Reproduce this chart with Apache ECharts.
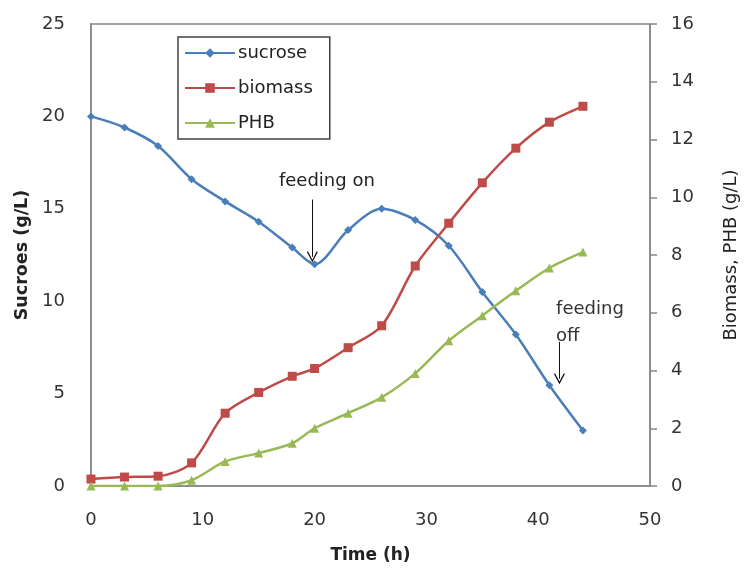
<!DOCTYPE html>
<html><head><meta charset="utf-8">
<script src="https://cdn.jsdelivr.net/npm/echarts@6/dist/echarts.min.js"></script>
<style>html,body{margin:0;padding:0;background:#fff}#c{width:748px;height:569px}</style>
</head><body><div id="c"></div>
<script>
var times   = [0, 3, 6, 9, 12, 15, 18, 20, 23, 26, 29, 32, 35, 38, 41, 44];
var sucrose = [20.0, 19.4, 18.4, 16.6, 15.4, 14.3, 12.9, 12.0, 13.85, 15.0, 14.4, 13.0, 10.5, 8.2, 5.45, 3.0];
var biomass = [0.24, 0.31, 0.34, 0.8, 2.52, 3.24, 3.8, 4.07, 4.79, 5.55, 7.62, 9.1, 10.5, 11.7, 12.6, 13.15];
var phb     = [0.0, 0.0, 0.0, 0.2, 0.85, 1.14, 1.48, 2.0, 2.52, 3.07, 3.9, 5.03, 5.9, 6.76, 7.55, 8.1];
var xTicks = [0, 10, 20, 30, 40, 50];
var leftTicks = [0, 5, 10, 15, 20, 25];
var rightTicks = [0, 2, 4, 6, 8, 10, 12, 14, 16];

function pairs(ys){ return times.map(function(t,i){ return [t, ys[i]]; }); }
var FONT = '"DejaVu Sans", sans-serif';
var CHEVRON = 'path://M0,10 L5,0 L10,10 L9,10.6 L5,2.6 L1,10.6 Z';
var chart = echarts.init(document.getElementById('c'), null, {renderer:'canvas'});
chart.setOption({
  animation: false,
  textStyle: {fontFamily: FONT},
  grid: {left: 91, right: 95, top: 24, bottom: 81, show: true, borderColor: '#868686', borderWidth: 1.5, backgroundColor: '#fff'},
  legend: {
    orient: 'vertical', left: 178, top: 37,
    padding: [7, 17, 7, 6], itemGap: 17,
    borderColor: '#404040', borderWidth: 1.5,
    itemWidth: 50, itemHeight: 12,
    textStyle: {fontSize: 18, color: '#222', fontFamily: FONT, padding: [0, 0, 0, -2]},
    data: ['sucrose', 'biomass', 'PHB']
  },
  xAxis: {
    type: 'value', min: xTicks[0], max: xTicks[xTicks.length-1], interval: 10,
    name: 'Time (h)', nameLocation: 'middle', nameGap: 61,
    nameTextStyle: {fontSize: 17, fontWeight: 'bold', color: '#222'},
    axisLine: {show: true, lineStyle: {color: '#868686', width: 1.5}},
    axisTick: {show: false},
    axisLabel: {fontSize: 18, color: '#333', margin: 25},
    splitLine: {show: false}
  },
  yAxis: [{
    type: 'value', min: leftTicks[0], max: leftTicks[leftTicks.length-1], interval: 5,
    name: 'Sucroes (g/L)', nameLocation: 'middle', nameRotate: 90, nameGap: 53,
    nameTextStyle: {fontSize: 17.5, fontWeight: 'bold', color: '#222'},
    axisLine: {show: true, lineStyle: {color: '#868686', width: 1.5}},
    axisTick: {show: false},
    axisLabel: {fontSize: 18, color: '#333', margin: 26},
    splitLine: {show: false}
  }, {
    type: 'value', position: 'right', min: rightTicks[0], max: rightTicks[rightTicks.length-1], interval: 2,
    name: 'Biomass, PHB (g/L)', nameLocation: 'middle', nameRotate: 90, nameGap: 72,
    nameTextStyle: {fontSize: 18, color: '#222'},
    axisLine: {show: true, lineStyle: {color: '#868686', width: 1.5}},
    axisTick: {show: true, inside: false, length: 7, lineStyle: {color: '#868686', width: 1.5}},
    axisLabel: {fontSize: 18, color: '#333', margin: 21},
    splitLine: {show: false}
  }],
  series: [{
    name: 'sucrose', type: 'line', yAxisIndex: 0, smooth: 0.3,
    data: pairs(sucrose), symbol: 'diamond', symbolSize: 8,
    lineStyle: {color: '#4a7ebb', width: 2.5}, itemStyle: {color: '#4a7ebb'},
    markLine: {
      silent: true, symbol: ['none', CHEVRON], symbolSize: 11, precision: 4,
      lineStyle: {color: '#111', width: 1, type: 'solid'}, itemStyle: {color: '#111'}, label: {show: false},
      data: [
        [{coord: [19.8, 15.5]}, {coord: [19.8, 12.4]}],
        [{coord: [41.9, 7.8]}, {coord: [41.9, 5.8]}]
      ]
    },
    markPoint: {
      silent: true, symbol: 'circle', symbolSize: 1, itemStyle: {color: 'rgba(0,0,0,0)'},
      data: [
        {coord: [21.1, 16.5], label: {show: true, formatter: 'feeding on', fontSize: 18, color: '#222', align: 'center', verticalAlign: 'middle', position: 'inside'}},
        {coord: [41.6, 8.85], label: {show: true, formatter: 'feeding\noff', fontSize: 18, color: '#333', align: 'left', verticalAlign: 'middle', lineHeight: 27, position: 'inside'}}
      ]
    }
  }, {
    name: 'biomass', type: 'line', yAxisIndex: 1, smooth: 0.3,
    data: pairs(biomass), symbol: 'rect', symbolSize: 9,
    lineStyle: {color: '#be4b48', width: 2.5}, itemStyle: {color: '#be4b48'}
  }, {
    name: 'PHB', type: 'line', yAxisIndex: 1, smooth: 0.3,
    data: pairs(phb), symbol: 'triangle', symbolSize: 9,
    lineStyle: {color: '#98b954', width: 2.5}, itemStyle: {color: '#98b954'}
  }]
});
</script></body></html>
